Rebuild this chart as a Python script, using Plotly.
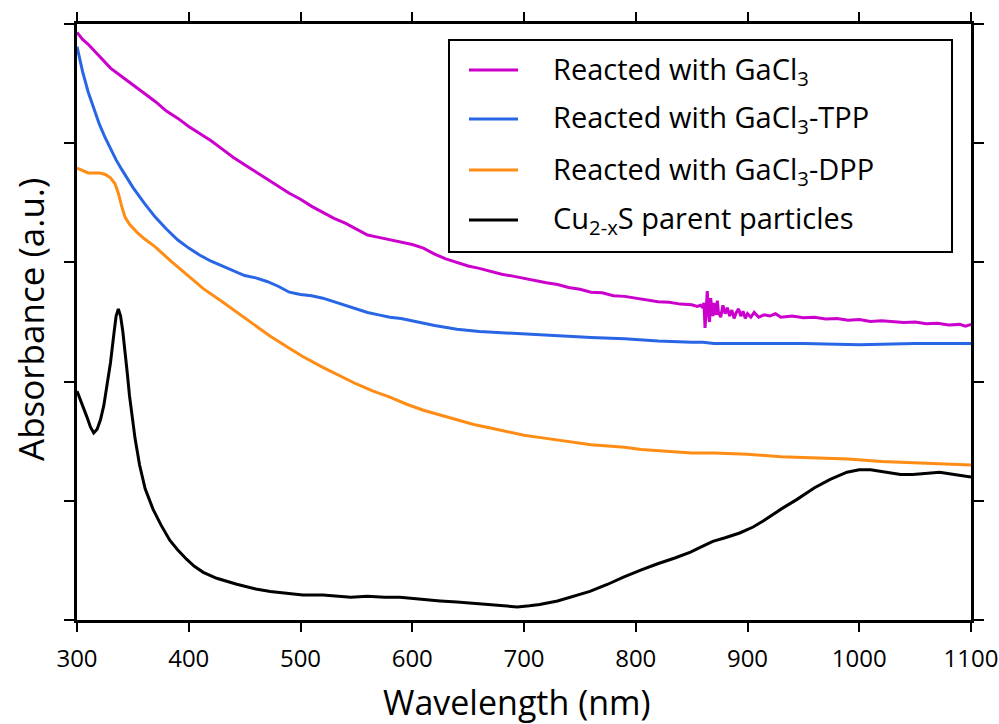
import plotly.graph_objects as go

# ---- spectra: wavelength (nm) and absorbance (a.u.) ----
wl_gacl3 = [300, 305, 310, 315, 320, 330, 340, 350, 360, 370, 380, 390, 400, 410, 420, 430,
            440, 450, 460, 470, 480, 490, 500, 510, 520, 530, 540, 550, 560, 570, 580, 590,
            600, 610, 620, 630, 640, 650, 660, 670, 680, 690, 700, 710, 720, 730, 740, 750,
            760, 770, 780, 790, 800, 810, 820, 830, 840, 850, 855, 858, 860, 861, 862, 863,
            864, 865, 866, 867, 868, 869, 870, 871, 872, 873, 874, 876, 878, 880, 882, 884,
            886, 888, 890, 892, 894, 896, 898, 900, 903, 906, 910, 915, 920, 925, 930, 940,
            950, 960, 970, 980, 990, 1000, 1010, 1020, 1030, 1040, 1050, 1060, 1070, 1080,
            1090, 1095, 1100]
abs_gacl3 = [4.93, 4.87, 4.83, 4.78, 4.73, 4.63, 4.56, 4.49, 4.42, 4.35, 4.27, 4.21, 4.14, 4.08,
             4.02, 3.95, 3.88, 3.82, 3.76, 3.70, 3.64, 3.58, 3.53, 3.47, 3.42, 3.37, 3.33, 3.28,
             3.23, 3.21, 3.19, 3.17, 3.15, 3.12, 3.07, 3.03, 3.00, 2.97, 2.95, 2.925, 2.90, 2.885,
             2.865, 2.85, 2.83, 2.815, 2.79, 2.775, 2.75, 2.745, 2.72, 2.715, 2.70, 2.685, 2.67, 2.665,
             2.65, 2.645, 2.63, 2.64, 2.62, 2.66, 2.45, 2.60, 2.76, 2.58, 2.50, 2.70, 2.62, 2.55,
             2.66, 2.60, 2.56, 2.68, 2.58, 2.54, 2.64, 2.57, 2.62, 2.55, 2.60, 2.53, 2.58, 2.61,
             2.55, 2.59, 2.53, 2.57, 2.54, 2.58, 2.54, 2.56, 2.55, 2.57, 2.54, 2.55, 2.535, 2.54,
             2.525, 2.53, 2.515, 2.52, 2.505, 2.51, 2.50, 2.495, 2.50, 2.485, 2.49, 2.475, 2.48, 2.465,
             2.48]

wl_tpp = [300, 305, 310, 315, 320, 325, 330, 335, 340, 350, 360, 370, 380, 390, 400, 410, 420,
          430, 440, 450, 460, 470, 480, 490, 500, 510, 520, 530, 540, 550, 560, 570, 580, 590,
          600, 620, 640, 660, 680, 700, 730, 760, 790, 820, 850, 860, 870, 900, 950, 1000,
          1050, 1100]
abs_tpp = [4.81, 4.60, 4.43, 4.29, 4.16, 4.05, 3.95, 3.86, 3.78, 3.63, 3.50, 3.38, 3.28, 3.19,
           3.12, 3.06, 3.01, 2.97, 2.93, 2.89, 2.87, 2.84, 2.80, 2.75, 2.73, 2.72, 2.70, 2.67,
           2.64, 2.61, 2.58, 2.56, 2.54, 2.53, 2.51, 2.47, 2.44, 2.42, 2.41, 2.40, 2.38, 2.37,
           2.36, 2.34, 2.33, 2.33, 2.32, 2.32, 2.32, 2.31, 2.32, 2.32]

wl_dpp = [300, 305, 310, 315, 320, 325, 330, 334, 337, 340, 343, 347, 354, 360, 370, 383, 400,
          413, 430, 443, 460, 473, 490, 502, 520, 533, 550, 565, 580, 595, 610, 625, 640, 655,
          670, 685, 700, 715, 730, 745, 760, 775, 790, 805, 820, 835, 850, 870, 900, 930, 960,
          990, 1020, 1050, 1075, 1100]
abs_dpp = [3.79, 3.77, 3.75, 3.75, 3.75, 3.74, 3.71, 3.66, 3.58, 3.47, 3.38, 3.32, 3.25, 3.20,
           3.13, 3.02, 2.88, 2.78, 2.67, 2.58, 2.47, 2.38, 2.28, 2.21, 2.12, 2.06, 1.98, 1.92,
           1.87, 1.81, 1.76, 1.72, 1.68, 1.64, 1.61, 1.58, 1.55, 1.53, 1.51, 1.49, 1.47, 1.46,
           1.45, 1.43, 1.42, 1.41, 1.40, 1.40, 1.39, 1.37, 1.36, 1.35, 1.33, 1.32, 1.31, 1.30]

wl_parent = [300, 303, 306, 309, 312, 315, 318, 321, 324, 327, 330, 333, 335, 337, 339, 341, 343,
             345, 347, 349, 352, 356, 361, 368, 375, 383, 390, 398, 405, 413, 425, 443, 460, 473,
             490, 502, 520, 533, 545, 560, 575, 589, 600, 610, 625, 640, 655, 670, 682, 694, 705,
             714, 730, 745, 759, 775, 789, 805, 819, 835, 849, 860, 869, 880, 893, 905, 914, 930,
             944, 960, 974, 989, 1000, 1010, 1025, 1037, 1048, 1060, 1072, 1085, 1097, 1100]
abs_parent = [1.92, 1.85, 1.77, 1.70, 1.62, 1.57, 1.60, 1.68, 1.80, 1.97, 2.16, 2.40, 2.55, 2.61,
              2.55, 2.42, 2.27, 2.07, 1.88, 1.72, 1.52, 1.30, 1.10, 0.93, 0.80, 0.67, 0.59, 0.51,
              0.45, 0.40, 0.35, 0.30, 0.26, 0.24, 0.22, 0.21, 0.21, 0.20, 0.19, 0.20, 0.19, 0.19,
              0.18, 0.17, 0.16, 0.15, 0.14, 0.13, 0.12, 0.11, 0.12, 0.13, 0.16, 0.20, 0.24, 0.30,
              0.36, 0.42, 0.47, 0.52, 0.57, 0.62, 0.66, 0.69, 0.73, 0.78, 0.83, 0.93, 1.01, 1.11,
              1.18, 1.24, 1.26, 1.26, 1.24, 1.22, 1.22, 1.23, 1.24, 1.22, 1.20, 1.20]

series_labels = ["Reacted with GaCl<sub>3</sub>",
                 "Reacted with GaCl<sub>3</sub>-TPP",
                 "Reacted with GaCl<sub>3</sub>-DPP",
                 "Cu<sub>2-x</sub>S parent particles"]
series_colors = ["rgb(204,0,204)", "rgb(40,102,230)", "rgb(255,140,20)", "black"]
series_x = [wl_gacl3, wl_tpp, wl_dpp, wl_parent]
series_y = [abs_gacl3, abs_tpp, abs_dpp, abs_parent]

x_ticks = [300, 400, 500, 600, 700, 800, 900, 1000, 1100]

W, H = 999, 724
L, R, T, B = 77, 28, 24, 104
PW, PH = W - L - R, H - T - B


def px(xp):
    return (xp - L) / PW


def py(yp):
    return (H - B - yp) / PH


fig = go.Figure()
for xs, ys, col, lab in zip(series_x, series_y, series_colors, series_labels):
    fig.add_trace(go.Scatter(x=xs, y=ys, mode="lines", name=lab,
                             line=dict(color=col, width=3), showlegend=False))

# legend box drawn by hand
fig.add_shape(type="rect", xref="paper", yref="paper",
              x0=px(449), x1=px(952), y0=py(252), y1=py(40),
              line=dict(color="black", width=2), fillcolor="white", layer="above")
row_y = [70, 119, 170, 220]
for ry, col, lab in zip(row_y, series_colors, series_labels):
    fig.add_shape(type="line", xref="paper", yref="paper",
                  x0=px(469), x1=px(518), y0=py(ry), y1=py(ry),
                  line=dict(color=col, width=3), layer="above")
    fig.add_annotation(xref="paper", yref="paper", x=px(551), y=py(ry),
                       xanchor="left", yanchor="middle", showarrow=False,
                       text=lab, font=dict(size=29, color="black"))

# axis titles
fig.add_annotation(xref="paper", yref="paper", x=px(517), y=py(702),
                   xanchor="center", yanchor="middle", showarrow=False,
                   text="Wavelength (nm)", font=dict(size=34, color="black"))
fig.add_annotation(xref="paper", yref="paper", x=px(31), y=py(320),
                   xanchor="center", yanchor="middle", showarrow=False, textangle=-90,
                   text="Absorbance (a.u.)", font=dict(size=35, color="black"))

fig.update_layout(width=W, height=H, margin=dict(l=L, r=R, t=T, b=B, autoexpand=False),
                  paper_bgcolor="white", plot_bgcolor="white",
                  font=dict(family="Open Sans", color="black"))
fig.update_xaxes(range=[300, 1100], tickvals=x_ticks, ticktext=[str(v) for v in x_ticks],
                 ticks="outside", ticklen=9, tickwidth=1.5, tickcolor="black",
                 ticklabelstandoff=6, automargin=False,
                 showline=True, linewidth=2.5, linecolor="black", mirror="allticks",
                 showgrid=False, zeroline=False, tickfont=dict(size=24, color="black"))
fig.update_yaxes(range=[0, 5], tickvals=[0, 1, 2, 3, 4, 5], showticklabels=False,
                 ticks="outside", ticklen=10, tickwidth=1.5, tickcolor="black",
                 automargin=False,
                 showline=True, linewidth=2.5, linecolor="black", mirror="allticks",
                 showgrid=False, zeroline=False)

fig.write_html("out.html")
